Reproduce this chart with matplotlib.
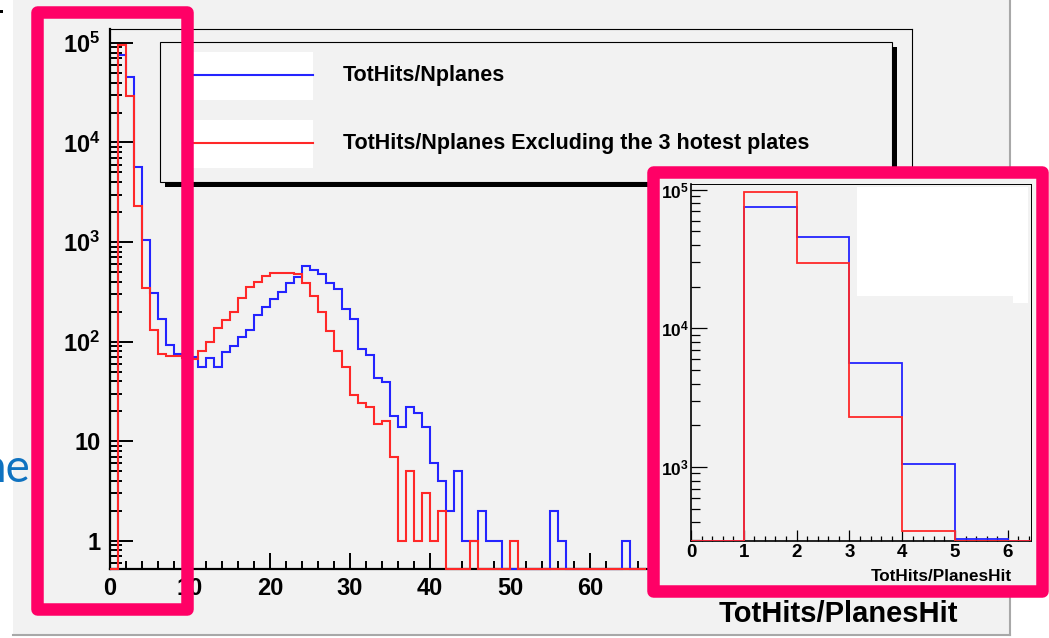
import matplotlib
matplotlib.use("Agg")
import matplotlib.pyplot as plt
import numpy as np
from matplotlib.lines import Line2D
from matplotlib.patches import Rectangle

W, H = 1049, 638

# bin contents, unit-width bins starting at 0 (TotHits/PlanesHit)
blue_counts = [0, 75700, 45300, 5660, 1057, 305, 170, 93, 75, 73,
               70, 56, 69, 56, 78, 91, 111, 131, 186, 225,
               269, 314, 387, 444, 577, 526, 476, 385, 336, 212,
               167, 84, 73, 43, 39, 18, 14, 22, 19, 14,
               6, 4, 2, 5, 1, 1, 2, 1, 1, 0,
               0, 0, 0, 0, 0, 2, 1, 0, 0, 0,
               0, 0, 0, 0, 1, 0, 0]
red_counts = [0, 96200, 29500, 2290, 347, 131, 75, 72, 71, 69,
              67, 80, 99, 136, 163, 200, 273, 357, 395, 451,
              494, 494, 494, 480, 387, 284, 200, 128, 80, 56,
              29, 24, 22, 15, 16, 7, 1, 5, 1, 3,
              1, 2, 0, 0, 0, 1, 0, 0, 0, 0,
              1, 0, 0, 0, 0, 0, 0, 0, 0, 0,
              0, 0, 0, 0, 0, 0, 0]
bin_edges = np.arange(len(blue_counts) + 1)

main_xlim = (0, 100.25)
main_ylim = (0.52, 1.38e5)
inset_xlim = (0, 6.44)
inset_ylim = (293, 1.1e5)

legend_labels = ["TotHits/Nplanes", "TotHits/Nplanes Excluding the 3 hotest plates"]
x_title = "TotHits/PlanesHit"

BLUE = "#2424ff"
RED = "#ff2828"
PINK = "#ff0066"
CANVAS = "#f2f2f2"

plt.rcParams["font.family"] = ["Liberation Sans", "DejaVu Sans"]
plt.rcParams["font.weight"] = "bold"
plt.rcParams["mathtext.fontset"] = "custom"
plt.rcParams["mathtext.rm"] = "Liberation Sans:bold"
plt.rcParams["mathtext.bf"] = "Liberation Sans:bold"
plt.rcParams["mathtext.it"] = "Liberation Sans:bold"


def fig_box(x0, y0, x1, y1):
    # pixel box with origin at top-left -> figure fraction [l, b, w, h]
    return [x0 / W, 1 - y1 / H, (x1 - x0) / W, (y1 - y0) / H]


def add_rect(fig, x0, y0, x1, y1, **kw):
    l, b, w, h = fig_box(x0, y0, x1, y1)
    r = Rectangle((l, b), w, h, transform=fig.transFigure, **kw)
    fig.add_artist(r)
    return r


def log_label(v):
    e = int(round(np.log10(v)))
    if e == 0:
        return "1"
    if e == 1:
        return "10"
    return r"$\mathbf{10^{%d}}$" % e


def decade_ticks(lo, hi):
    majors, minors = [], []
    for e in range(int(np.floor(np.log10(lo))), int(np.ceil(np.log10(hi))) + 1):
        if lo <= 10 ** e <= hi:
            majors.append(10 ** e)
        for s in range(2, 10):
            v = s * 10 ** e
            if lo <= v <= hi:
                minors.append(v)
    return majors, minors


fig = plt.figure(figsize=(W / 100, H / 100), dpi=100)
fig.patch.set_facecolor("white")

# slide canvas
add_rect(fig, 13, 0, 1010, 635, facecolor=CANVAS, edgecolor="none", zorder=-3)
fig.add_artist(Line2D([1010 / W, 1010 / W], [1, 1 - 635 / H], transform=fig.transFigure,
                      color="#a8a8a8", lw=1.5, zorder=-2))
fig.add_artist(Line2D([13 / W, 1010 / W], [1 - 635 / H, 1 - 635 / H], transform=fig.transFigure,
                      color="#a8a8a8", lw=1.5, zorder=-2))
add_rect(fig, 0, 10, 3, 13, facecolor="black", edgecolor="none")

# main histogram
ax = fig.add_axes(fig_box(110, 29, 912, 569))
ax.set_facecolor(CANVAS)
ax.set_yscale("log")
ax.set_xlim(*main_xlim)
ax.set_ylim(*main_ylim)
ax.stairs(np.maximum(blue_counts, main_ylim[0]), bin_edges, baseline=None,
          color=BLUE, lw=1.5, zorder=3, clip_on=False)
ax.stairs(np.maximum(red_counts, main_ylim[0]), bin_edges, baseline=None,
          color=RED, lw=1.5, zorder=3.1, clip_on=False)

ax.set_xticks(np.arange(0, 101, 10))
ax.set_xticks(np.arange(0, 101, 2), minor=True)
majors, minors = decade_ticks(*main_ylim)
ax.set_yticks(majors, labels=[log_label(v) for v in majors])
ax.set_yticks(minors, minor=True)
ax.yaxis.set_minor_formatter(plt.NullFormatter())
ax.tick_params(axis="x", which="major", direction="in", length=11.5, width=1.4,
               labelsize=17, pad=6)
ax.tick_params(axis="x", which="minor", direction="in", length=5.8, width=1.4)
ax.tick_params(axis="y", which="major", direction="in", length=16.5, width=1.4,
               labelsize=17, pad=7)
ax.tick_params(axis="y", which="minor", direction="in", length=8.6, width=1.4)
for side in ("left", "bottom"):
    ax.spines[side].set_linewidth(1.6)
for side in ("top", "right"):
    ax.spines[side].set_linewidth(0.8)

fig.text(958 / W, 1 - 622 / H, x_title, ha="right", va="baseline", fontsize=21)

# legend box with shadow
add_rect(fig, 165, 47, 897, 187, facecolor="black", edgecolor="none", zorder=1)
add_rect(fig, 160, 42, 892, 182, facecolor=CANVAS, edgecolor="black", lw=0.8, zorder=1.1)
for (yc, col, lab) in zip([75, 143], [BLUE, RED], legend_labels):
    add_rect(fig, 183, yc - 23, 313, yc + 25, facecolor="white", edgecolor="none", zorder=1.2)
    fig.add_artist(Line2D([183 / W, 313 / W], [1 - yc / H, 1 - yc / H],
                          transform=fig.transFigure, color=col, lw=1.5, zorder=1.3))
    fig.text(343 / W, 1 - yc / H, lab, ha="left", va="center", fontsize=15.5, zorder=1.4)

# inset pad and inset histogram
add_rect(fig, 655, 175, 1040, 588, facecolor=CANVAS, edgecolor="none", zorder=4)
axi = fig.add_axes(fig_box(691, 184, 1031, 541), zorder=5)
axi.set_facecolor(CANVAS)
axi.set_yscale("log")
axi.set_xlim(*inset_xlim)
axi.set_ylim(*inset_ylim)
axi.stairs(np.maximum(blue_counts, inset_ylim[0]), bin_edges, baseline=None,
           color=BLUE, lw=1.3, zorder=3)
axi.stairs(np.maximum(red_counts, inset_ylim[0]), bin_edges, baseline=None,
           color=RED, lw=1.3, zorder=3.1)
axi.set_xticks(np.arange(0, 7, 1))
axi.set_xticks(np.arange(0, 6.5, 0.2), minor=True)
imaj, imin = decade_ticks(*inset_ylim)
axi.set_yticks(imaj, labels=[log_label(v) for v in imaj])
axi.set_yticks(imin, minor=True)
axi.yaxis.set_minor_formatter(plt.NullFormatter())
axi.tick_params(axis="x", which="major", direction="in", length=8, width=0.9,
                labelsize=13.5, pad=2.5)
axi.tick_params(axis="x", which="minor", direction="in", length=3.6, width=0.9)
axi.tick_params(axis="y", which="major", direction="in", length=11.5, width=0.9,
                labelsize=12.5, pad=1.5)
axi.tick_params(axis="y", which="minor", direction="in", length=6.5, width=0.9)
for side in ("left", "bottom"):
    axi.spines[side].set_linewidth(1.2)
for side in ("top", "right"):
    axi.spines[side].set_linewidth(0.7)

add_rect(fig, 857, 187, 1028, 296, facecolor="white", edgecolor="none", zorder=6)
add_rect(fig, 1013, 296, 1028, 303, facecolor="white", edgecolor="none", zorder=6)
fig.text(1012 / W, 1 - 581 / H, x_title, ha="right", va="baseline", fontsize=12.3, zorder=7)

# highlight frames
for (x0, y0, x1, y1) in [(37, 11.5, 186.5, 609), (652.5, 171.5, 1042, 590.5)]:
    add_rect(fig, x0, y0, x1, y1, facecolor="none", edgecolor=PINK, lw=9,
             joinstyle="round", zorder=10)

fig.text(31 / W, 1 - 482 / H, "ne", ha="right", va="baseline", color="#0f72c0",
         fontsize=33, family="Lato", weight="normal", zorder=11)

fig.savefig("out.png", dpi=100)
